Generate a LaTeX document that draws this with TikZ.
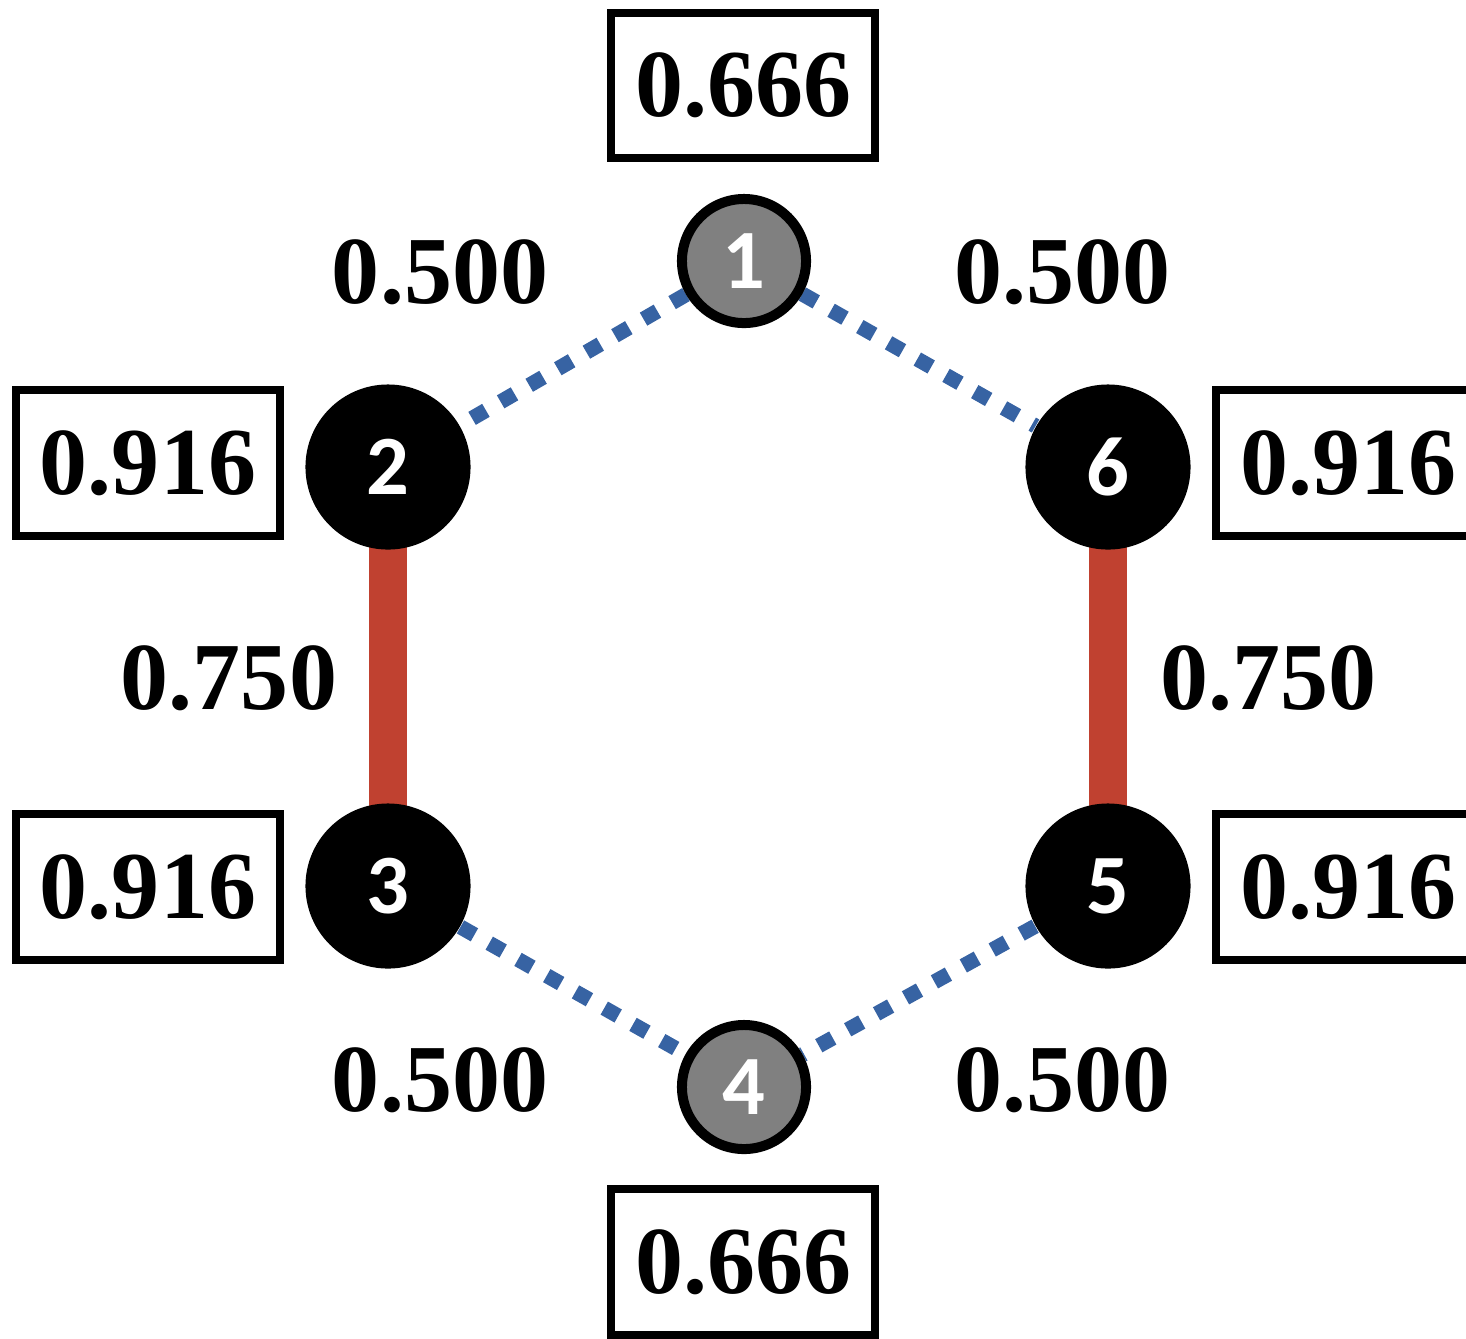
\documentclass[tikz,border=0pt]{standalone}
\usepackage{fontspec}
\setmainfont{Liberation Serif}
\newfontfamily\labelfont{Carlito}
\usetikzlibrary{backgrounds}
\definecolor{edgered}{RGB}{192,65,48}
\definecolor{edgeblue}{RGB}{55,99,163}
\definecolor{nodegray}{RGB}{128,128,128}

\begin{document}
\begin{tikzpicture}[x=0.01cm, y=-0.01cm,
  numfont/.style={font=\fontsize{27.3}{30}\selectfont\bfseries},
  valbox/.style={numfont, draw=black, line width=0.08cm,
    minimum width=2.64cm, minimum height=1.45cm, inner sep=0pt},
  weight/.style={numfont, inner sep=0pt},
  idfont/.style={text=white, font=\labelfont\fontsize{24}{27}\selectfont\bfseries},
  hub/.style={idfont, circle, fill=black, minimum size=1.65cm, inner sep=0pt},
  leaf/.style={idfont, circle, fill=nodegray, draw=black, line width=0.1cm,
    minimum size=1.24cm, inner sep=0pt},
  strong/.style={draw=edgered, line width=0.37cm},
  weak/.style={draw=edgeblue, line width=0.15cm, dash pattern=on 0.16cm off 0.17cm},
]
\useasboundingbox (0,0) rectangle (1466,1338);
\clip (0,0) rectangle (1466,1338);

% vertices of the ring
\node[leaf] (n1) at (744,261)  {1};
\node[hub]  (n2) at (388,467)  {2};
\node[hub]  (n3) at (388,886)  {3};
\node[leaf] (n4) at (744,1087) {4};
\node[hub]  (n5) at (1108,886) {5};
\node[hub]  (n6) at (1108,467) {6};

% vertex values
\node[valbox] (v1) at (743,85.5) {0.666};
\node[valbox] (v2) at (148,463)  {0.916};
\node[valbox] (v3) at (148,887)  {0.916};
\node[valbox] (v4) at (743,1262) {0.666};
\node[valbox] (v5) at (1348,887) {0.916};
\node[valbox] (v6) at (1348,463) {0.916};

% edge weights
\node[weight] (w12) at (440,272)  {0.500};
\node[weight] (w16) at (1062,272) {0.500};
\node[weight] (w23) at (229,678)  {0.750};
\node[weight] (w56) at (1268,678) {0.750};
\node[weight] (w34) at (440,1080) {0.500};
\node[weight] (w45) at (1062,1080) {0.500};

% edges behind the vertices
\begin{scope}[on background layer]
  \draw[strong] (n2.center) -- (n3.center);
  \draw[strong] (n6.center) -- (n5.center);
  \draw[weak] (n1) -- (n2);
  \draw[weak] (n1) -- (n6);
  \draw[weak] (n3) -- (n4);
  \draw[weak] (n5) -- (n4);
\end{scope}
\end{tikzpicture}
\end{document}
